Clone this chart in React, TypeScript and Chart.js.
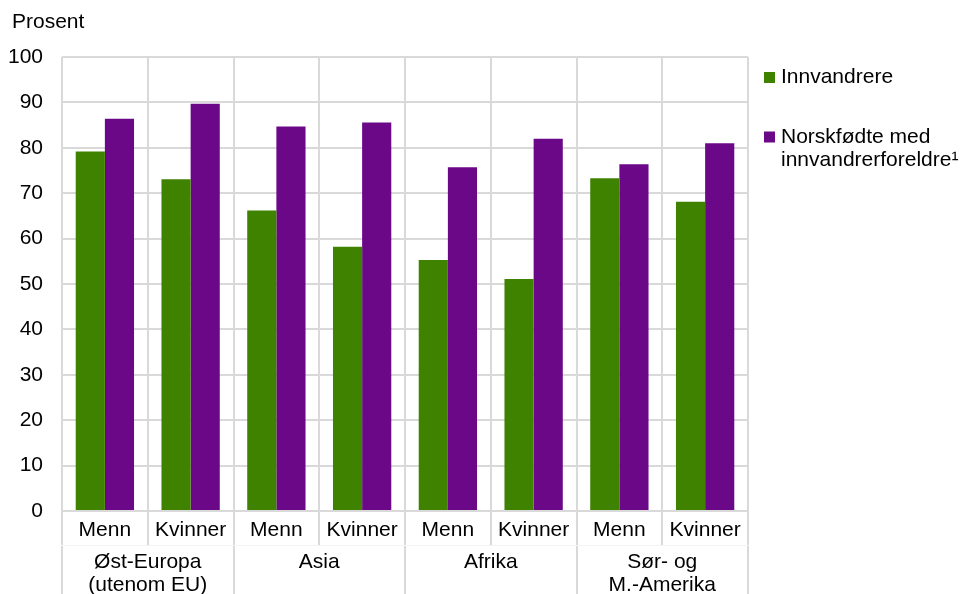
import React, { useEffect, useRef } from "react";
import { Chart, registerables } from "chart.js";

Chart.register(...registerables);

// ---- Data ----
const subCategories = ["Menn", "Kvinner", "Menn", "Kvinner", "Menn", "Kvinner", "Menn", "Kvinner"];
const regionLabels = [["Øst-Europa", "(utenom EU)"], ["Asia"], ["Afrika"], ["Sør- og", "M.-Amerika"]];
const innvandrere = [79.2, 73.1, 66.2, 58.2, 55.3, 51.1, 73.3, 68.1];
const norskfodte = [86.4, 89.7, 84.7, 85.6, 75.7, 82.0, 76.4, 81.0];
const seriesLabels = ["Innvandrere", "Norskfødte med innvandrerforeldre¹"];
const legendLines = [["Innvandrere"], ["Norskfødte med", "innvandrerforeldre¹"]];
const unitLabel = "Prosent";
const yMin = 0;
const yMax = 100;
const yStep = 10;

const FONT = "'Liberation Sans', Arial, Helvetica, sans-serif";
const GREEN = "#3f8200";
const PURPLE = "#6a0888";
const GRID = "#d9d9d9";

const overlayPlugin = {
  id: "overlay",
  afterDraw(chart: any) {
    const { ctx, chartArea } = chart;
    ctx.save();
    ctx.font = `21px ${FONT}`;
    ctx.textBaseline = "middle";
    ctx.textAlign = "left";
    ctx.fillStyle = "#000";
    ctx.fillText(unitLabel, 12, 22);
    const legendY = [77.5, 137];
    chart.data.datasets.forEach((ds: any, i: number) => {
      const y0 = legendY[i];
      ctx.fillStyle = ds.backgroundColor;
      ctx.fillRect(chartArea.right + 16, y0 - 5.5, 11, 11);
      ctx.fillStyle = "#000";
      legendLines[i].forEach((line, j) => {
        ctx.fillText(line, chartArea.right + 33, y0 + j * 23);
      });
    });
    ctx.restore();
  },
};

export default function App() {
  const canvasRef = useRef<HTMLCanvasElement | null>(null);

  useEffect(() => {
    document.body.style.margin = "0";
    const canvas = canvasRef.current;
    if (!canvas) return;
    const chart = new Chart(canvas, {
      type: "bar",
      data: {
        labels: subCategories,
        datasets: [
          {
            label: seriesLabels[0],
            data: innvandrere,
            backgroundColor: GREEN,
            borderWidth: 0,
            barPercentage: 1,
            categoryPercentage: 0.68,
          },
          {
            label: seriesLabels[1],
            data: norskfodte,
            backgroundColor: PURPLE,
            borderWidth: 0,
            barPercentage: 1,
            categoryPercentage: 0.68,
          },
        ],
      },
      options: {
        animation: false,
        responsive: false,
        devicePixelRatio: 1,
        layout: { padding: { top: 57, right: 214, bottom: 0, left: 0 } },
        plugins: {
          legend: { display: false },
          tooltip: { enabled: false },
          title: { display: false },
        },
        scales: {
          y: {
            min: yMin,
            max: yMax,
            ticks: {
              stepSize: yStep,
              padding: 19,
              color: "#000",
              font: { family: FONT, size: 21, lineHeight: 1.1 },
            },
            grid: { color: GRID, lineWidth: 2, drawTicks: false },
            border: { display: false },
            afterFit: (scale: any) => {
              scale.width = 62;
            },
          },
          x: {
            position: "bottom",
            offset: true,
            ticks: {
              autoSkip: false,
              maxRotation: 0,
              padding: -26,
              color: "#000",
              font: { family: FONT, size: 21, lineHeight: 1.1 },
            },
            grid: { offset: true, color: GRID, lineWidth: 2, tickLength: 34, drawOnChartArea: true },
            border: { display: true, color: GRID, width: 2 },
            afterFit: (scale: any) => {
              scale.height = 34;
            },
          },
          x2: {
            type: "category",
            position: "bottom",
            labels: regionLabels as any,
            offset: true,
            ticks: {
              autoSkip: false,
              maxRotation: 0,
              padding: -43.5,
              color: "#000",
              font: { family: FONT, size: 21, lineHeight: 1.1 },
            },
            grid: { offset: true, color: GRID, lineWidth: 2, tickLength: 49, drawOnChartArea: false },
            border: { display: true, color: "#f4f4f4", width: 1 },
            afterFit: (scale: any) => {
              scale.height = 49;
            },
          },
        } as any,
      },
      plugins: [overlayPlugin],
    });
    return () => chart.destroy();
  }, []);

  return (
    <div style={{ position: "fixed", left: 0, top: 0, width: 962, height: 594, background: "#fff" }}>
      <canvas ref={canvasRef} width={962} height={594} style={{ width: 962, height: 594, display: "block" }} />
    </div>
  );
}
